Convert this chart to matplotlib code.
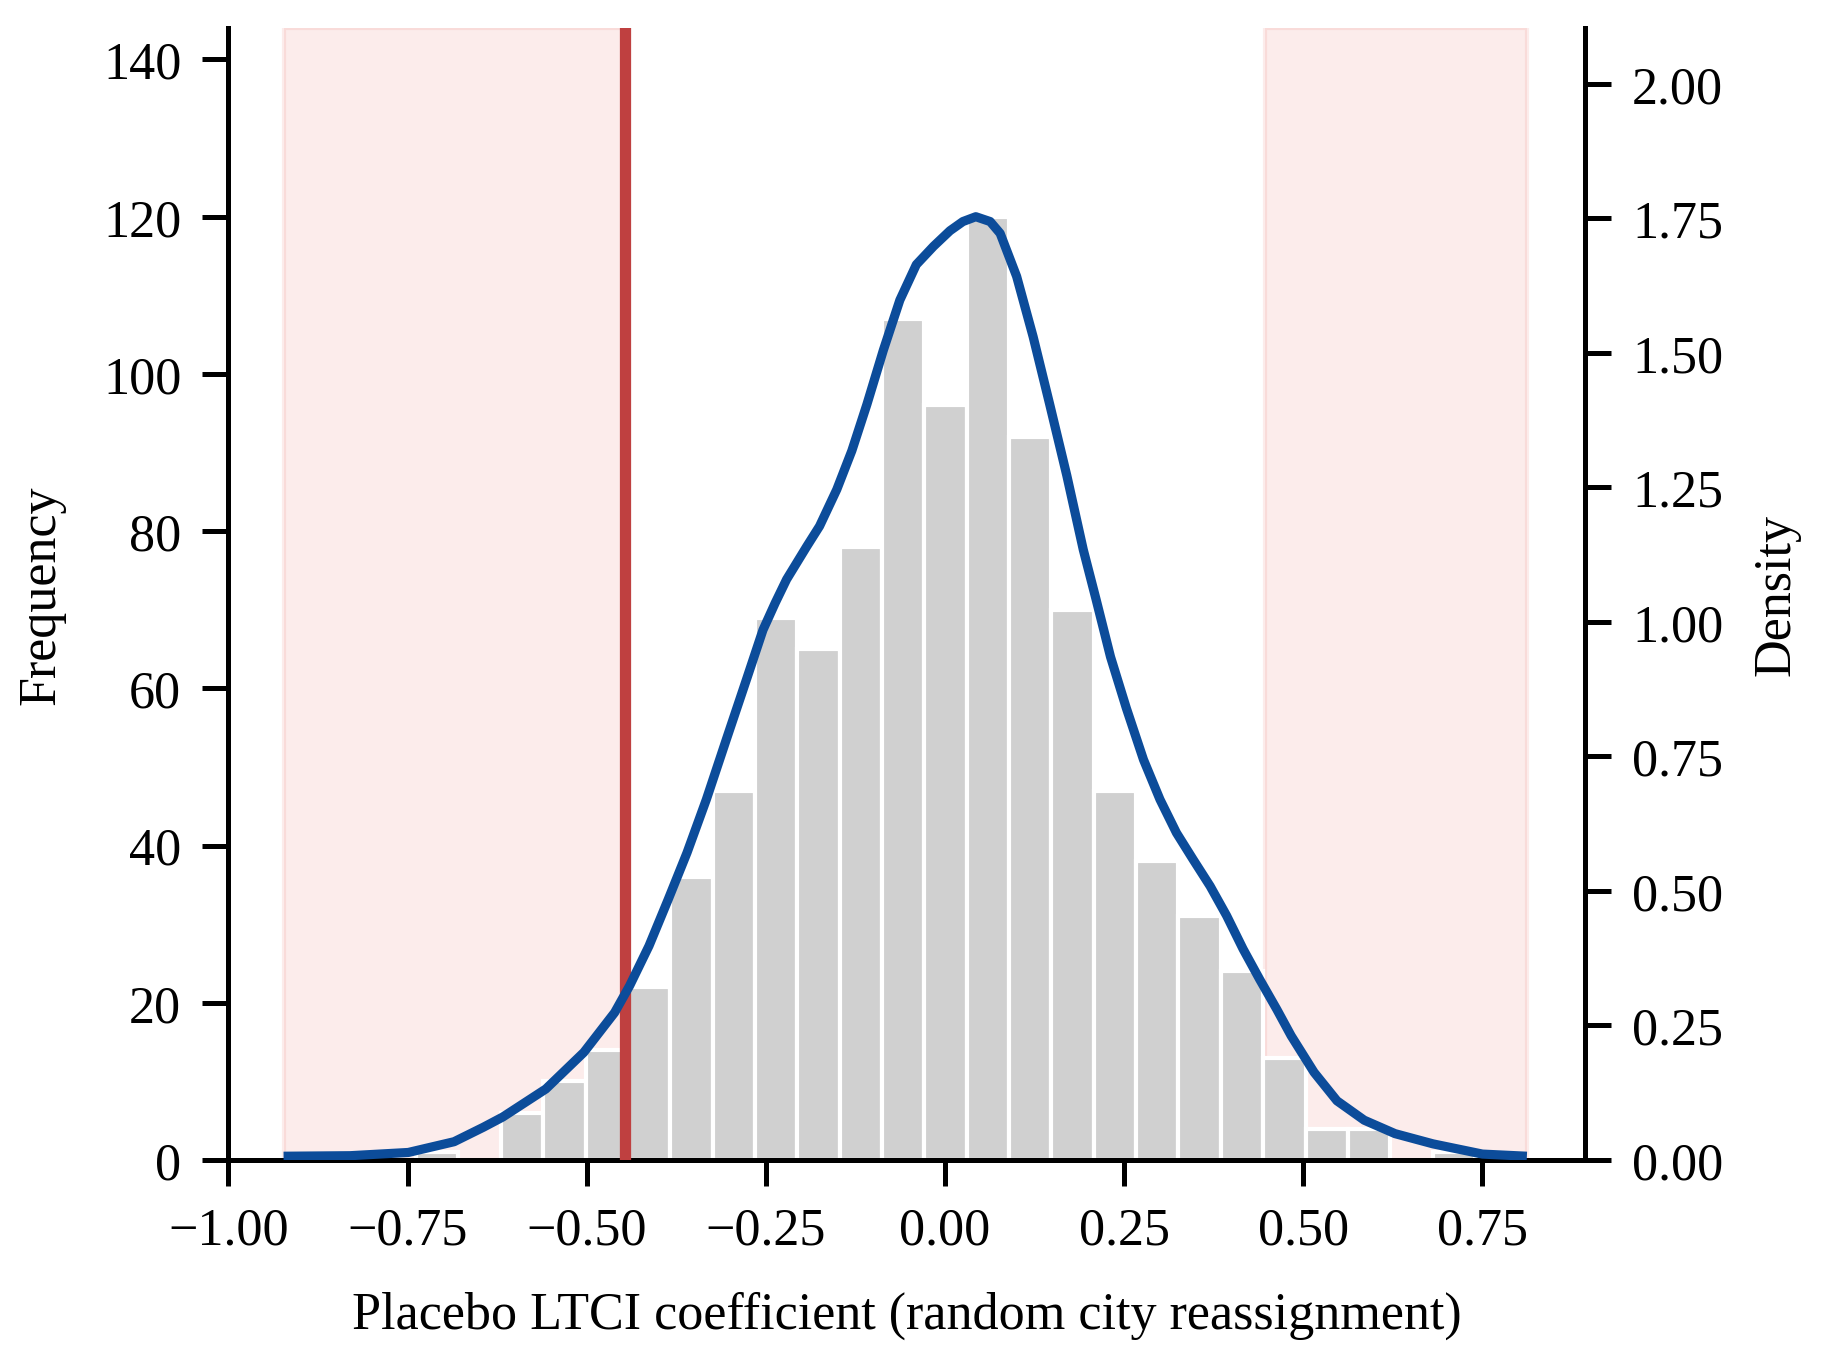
import numpy as np
import matplotlib
matplotlib.use("Agg")
import matplotlib.pyplot as plt
from matplotlib.ticker import MultipleLocator

plt.rcParams['font.family'] = ['Liberation Serif', 'DejaVu Serif']

# histogram of placebo coefficients (counts)
bin_start = -0.738
bin_width = 0.0591
counts = [1, 0, 6, 10, 14, 22, 36, 47, 69, 65, 78, 107, 96, 120,
          92, 70, 47, 38, 31, 24, 13, 4, 4, 0, 1]

# kernel density curve (x, density)
kde_x = [-0.923, -0.830, -0.749, -0.685, -0.644, -0.617, -0.557, -0.504,
         -0.461, -0.440, -0.413, -0.386, -0.360, -0.333, -0.305, -0.277,
         -0.254, -0.237, -0.221, -0.193, -0.175, -0.151, -0.130, -0.109,
         -0.086, -0.063, -0.040, -0.016, 0.007, 0.025, 0.043, 0.063,
         0.077, 0.100, 0.123, 0.146, 0.170, 0.193, 0.211, 0.231,
         0.253, 0.277, 0.300, 0.323, 0.346, 0.370, 0.393, 0.416,
         0.439, 0.463, 0.483, 0.515, 0.547, 0.585, 0.628, 0.681,
         0.750, 0.812]
kde_y = [0.007, 0.008, 0.014, 0.034, 0.061, 0.080, 0.132, 0.200,
         0.274, 0.324, 0.398, 0.485, 0.571, 0.670, 0.782, 0.893,
         0.985, 1.035, 1.079, 1.140, 1.178, 1.246, 1.318, 1.404,
         1.505, 1.598, 1.664, 1.698, 1.727, 1.744, 1.753, 1.744,
         1.722, 1.642, 1.530, 1.405, 1.272, 1.134, 1.041, 0.935,
         0.840, 0.744, 0.670, 0.608, 0.559, 0.509, 0.454, 0.392,
         0.336, 0.280, 0.231, 0.163, 0.110, 0.074, 0.049, 0.030,
         0.011, 0.007]

observed = -0.447   # actual LTCI estimate

edges = bin_start + bin_width * np.arange(len(counts) + 1)

fig = plt.figure(figsize=(6.09, 4.573), dpi=300)
ax = fig.add_axes([0.125, 0.1538, 0.7425, 0.8251])

# shade where |placebo| >= |observed|
ax.axvspan(min(kde_x), observed, color='#E74C3C', alpha=0.1, zorder=0)
ax.axvspan(-observed, max(kde_x), color='#E74C3C', alpha=0.1, zorder=0)

ax.bar(edges[:-1], counts, width=np.diff(edges), align='edge',
       color='#D0D0D0', edgecolor='white', linewidth=1.0, zorder=2)
ax.axvline(observed, color='#BF4040', linewidth=2.7, zorder=3)

ax.set_xlim(-1.0, 0.893)
ax.set_ylim(0, max(counts) * 1.2)
ax.xaxis.set_major_locator(MultipleLocator(0.25))
ax.yaxis.set_major_locator(MultipleLocator(20))
ax.set_xlabel('Placebo LTCI coefficient (random city reassignment)',
              fontsize=12.5, labelpad=8.5)
ax.set_ylabel('Frequency', fontsize=12.5, labelpad=9)

ax2 = ax.twinx()
ax2.plot(kde_x, kde_y, color='#0C4C9A', linewidth=2.2, zorder=4,
         solid_joinstyle='round', solid_capstyle='butt')
ax2.set_ylim(0, max(kde_y) * 1.2)
ax2.yaxis.set_major_locator(MultipleLocator(0.25))
ax2.set_ylabel('Density', fontsize=12.5, labelpad=7)

for a in (ax, ax2):
    a.spines['top'].set_visible(False)
    for s in a.spines.values():
        s.set_linewidth(1.2)
    a.tick_params(labelsize=12.5, length=6.3, width=1.2, pad=5)
ax.spines['right'].set_visible(False)
ax2.spines['left'].set_visible(False)
ax2.spines['bottom'].set_visible(False)

fig.savefig('out.png', dpi=300)
